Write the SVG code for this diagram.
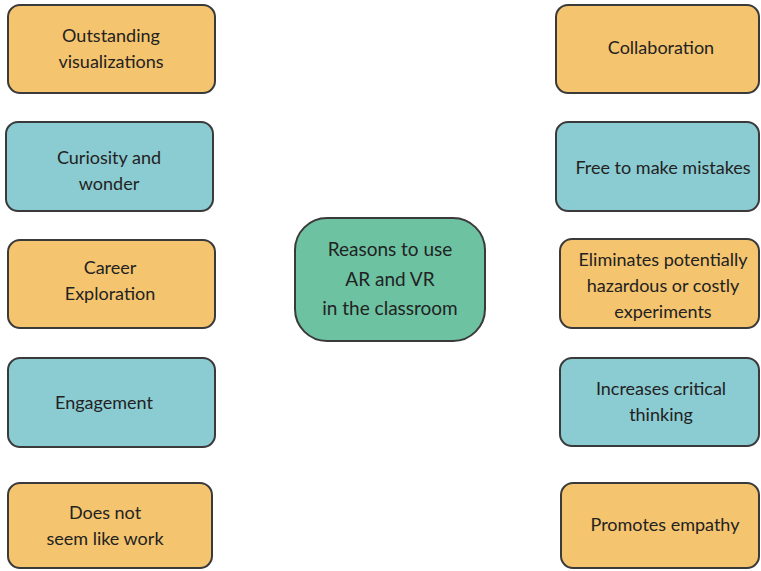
<svg xmlns="http://www.w3.org/2000/svg" width="761" height="571" viewBox="0 0 761 571">
<style>
.box{stroke:#3a3a3a;stroke-width:2}
.o{fill:#F5C46E}
.t{fill:#8BCBD2}
.g{fill:#6DC2A2}
text{font-family:Lato,"Open Sans",sans-serif;font-size:18px;fill:#222;text-anchor:middle}
.c{font-size:19px}
</style>
<rect width="761" height="571" fill="#fff"/>
<g id="connectors"></g>
<g id="n1"><rect class="box o" x="8" y="5" width="207" height="88" rx="12"/><text x="111" y="42">Outstanding</text><text x="111" y="68">visualizations</text></g>
<g id="n2"><rect class="box t" x="6" y="122" width="207" height="89" rx="12"/><text x="109" y="164">Curiosity and</text><text x="109" y="190">wonder</text></g>
<g id="n3"><rect class="box o" x="8" y="240" width="207" height="88" rx="12"/><text x="110" y="274">Career</text><text x="110" y="300">Exploration</text></g>
<g id="n4"><rect class="box t" x="8" y="358" width="207" height="89" rx="12"/><text x="104" y="409">Engagement</text></g>
<g id="n5"><rect class="box o" x="8" y="483" width="204" height="85" rx="12"/><text x="105" y="519">Does not</text><text x="105" y="545">seem like work</text></g>
<g id="center"><rect class="box g" x="295" y="218" width="190" height="123" rx="32"/><text class="c" x="390" y="256">Reasons to use</text><text class="c" x="390" y="286">AR and VR</text><text class="c" x="390" y="315">in the classroom</text></g>
<g id="r1"><rect class="box o" x="556" y="5" width="203" height="88" rx="12"/><text x="661" y="54">Collaboration</text></g>
<g id="r2"><rect class="box t" x="556" y="122" width="203" height="89" rx="12"/><text x="663" y="174">Free to make mistakes</text></g>
<g id="r3"><rect class="box o" x="560" y="239" width="199" height="89" rx="12"/><text x="663" y="266">Eliminates potentially</text><text x="663" y="292">hazardous or costly</text><text x="663" y="318">experiments</text></g>
<g id="r4"><rect class="box t" x="560" y="358" width="199" height="88" rx="12"/><text x="661" y="395">Increases critical</text><text x="661" y="421">thinking</text></g>
<g id="r5"><rect class="box o" x="561" y="483" width="198" height="85" rx="12"/><text x="665" y="531">Promotes empathy</text></g>
</svg>
